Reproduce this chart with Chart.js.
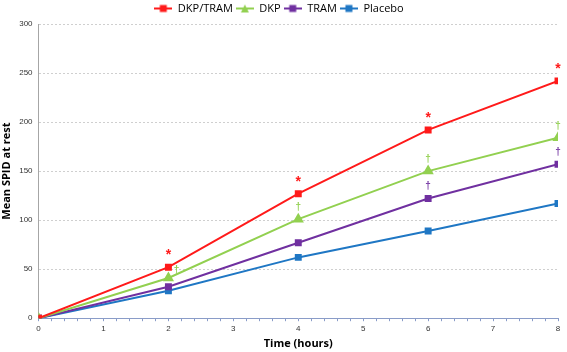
<!DOCTYPE html>
<html>
<head>
<meta charset="utf-8">
<script src="https://cdn.jsdelivr.net/npm/chart.js@4.4.1/dist/chart.umd.min.js"></script>
<style>
  html, body { margin: 0; padding: 0; background: #fff; }
  #wrap { width: 567px; height: 352px; }
</style>
</head>
<body>
<div id="wrap"><canvas id="grafico"></canvas></div>
<script>
// dados
const horas = [0, 2, 4, 6, 8];
const dkpTram = [0, 52, 127, 192, 242];
const dkp = [0, 41, 101, 150, 184];
const tram = [0, 32, 77, 122, 157];
const placebo = [0, 28, 62, 89, 117];

// marcas de significancia: serie, hora, simbolo
const marcaSerie = ['DKP/TRAM', 'DKP/TRAM', 'DKP/TRAM', 'DKP/TRAM', 'DKP', 'DKP', 'DKP', 'DKP', 'TRAM', 'TRAM'];
const marcaHora = [2, 4, 6, 8, 2, 4, 6, 8, 6, 8];
const marcaSimbolo = ['*', '*', '*', '*', '†', '†', '†', '†', '†', '†'];

const cores = {
    'DKP/TRAM': '#ff1a1a',
    'DKP': '#92d050',
    'TRAM': '#7030a0',
    'Placebo': '#1f77c4'
};

// icone da legenda: linha + marcador
function iconeLegenda(cor, forma) {
    const c = document.createElement('canvas');
    c.width = 18;
    c.height = 10;
    const ctx = c.getContext('2d');
    ctx.strokeStyle = cor;
    ctx.fillStyle = cor;
    ctx.lineWidth = 2;
    ctx.beginPath();
    ctx.moveTo(0, 5);
    ctx.lineTo(18, 5);
    ctx.stroke();
    ctx.beginPath();
    if (forma == 'triangle') {
        ctx.moveTo(9, 1);
        ctx.lineTo(13, 9);
        ctx.lineTo(5, 9);
        ctx.closePath();
    } else {
        ctx.rect(5.5, 1.5, 7, 7);
    }
    ctx.fill();
    return c;
}

function serie(nome, valores, forma) {
    return {
        label: nome,
        data: horas.map((h, i) => ({ x: h, y: valores[i] })),
        borderColor: cores[nome],
        backgroundColor: cores[nome],
        borderWidth: 2,
        pointStyle: forma,
        pointRadius: forma == 'triangle' ? 4.5 : 3.5,
        pointHoverRadius: 4,
        tension: 0,
        legendIcon: iconeLegenda(cores[nome], forma)
    };
}

const marcasPlugin = {
    id: 'marcas',
    afterDatasetsDraw(chart) {
        const ctx = chart.ctx;
        const xs = chart.scales.x;
        const ys = chart.scales.y;
        ctx.save();
        ctx.textAlign = 'center';
        ctx.textBaseline = 'middle';
        for (let i = 0; i < marcaSerie.length; i++) {
            const ds = chart.data.datasets.find(d => d.label == marcaSerie[i]);
            const p = ds.data.find(d => d.x == marcaHora[i]);
            let px = xs.getPixelForValue(p.x);
            let py = ys.getPixelForValue(p.y);
            if (marcaSimbolo[i] == '*') {
                ctx.font = 'bold 14px "Liberation Sans", sans-serif';
                py -= 12;
            } else {
                ctx.font = 'bold 10px "Liberation Sans", sans-serif';
                // o da DKP em 2h fica ao lado do ponto
                if (marcaSerie[i] == 'DKP' && marcaHora[i] == 2) {
                    px += 8;
                    py -= 8;
                } else {
                    py -= 12;
                }
            }
            ctx.fillStyle = cores[marcaSerie[i]];
            ctx.fillText(marcaSimbolo[i], px, py);
        }
        ctx.restore();
    }
};

new Chart(document.getElementById('grafico'), {
    type: 'line',
    data: {
        datasets: [
            serie('DKP/TRAM', dkpTram, 'rect'),
            serie('DKP', dkp, 'triangle'),
            serie('TRAM', tram, 'rect'),
            serie('Placebo', placebo, 'rect')
        ]
    },
    options: {
        responsive: true,
        maintainAspectRatio: false,
        animation: false,
        layout: { padding: { left: 0, right: 9, top: 0, bottom: 2 } },
        plugins: {
            legend: {
                position: 'top',
                labels: {
                    usePointStyle: true,
                    pointStyleWidth: 18,
                    boxHeight: 10,
                    padding: 3,
                    color: '#000',
                    font: { family: '"Open Sans", sans-serif', size: 11 },
                    generateLabels(chart) {
                        return chart.data.datasets.map((d, i) => ({
                            text: d.label,
                            pointStyle: d.legendIcon,
                            fillStyle: d.borderColor,
                            strokeStyle: d.borderColor,
                            lineWidth: 0,
                            hidden: false,
                            datasetIndex: i,
                            fontColor: '#000'
                        }));
                    }
                }
            },
            tooltip: { enabled: false }
        },
        scales: {
            x: {
                type: 'linear',
                min: 0,
                max: 8,
                border: { color: '#8a9cc8', width: 1 },
                grid: {
                    drawOnChartArea: false,
                    drawTicks: true,
                    tickLength: 3,
                    color: '#8a9cc8'
                },
                ticks: {
                    stepSize: 0.2,
                    autoSkip: false,
                    maxRotation: 0,
                    color: '#333',
                    padding: 3,
                    font: { family: '"Liberation Sans", sans-serif', size: 8 },
                    callback: (v) => Math.abs(v - Math.round(v)) < 1e-6 ? Math.round(v) : ''
                },
                title: {
                    display: true,
                    text: 'Time (hours)',
                    color: '#000',
                    padding: { top: 0, bottom: 0 },
                    font: { family: '"Open Sans", sans-serif', size: 11, weight: 'bold' }
                }
            },
            y: {
                min: 0,
                max: 300,
                border: { color: '#a6a6a6', width: 1, dash: [2, 2] },
                grid: {
                    color: '#cfcfcf',
                    drawTicks: false
                },
                ticks: {
                    stepSize: 50,
                    color: '#333',
                    padding: 6,
                    font: { family: '"Liberation Sans", sans-serif', size: 8 }
                },
                title: {
                    display: true,
                    text: 'Mean SPID at rest',
                    color: '#000',
                    padding: { top: 0, bottom: 0 },
                    font: { family: '"Open Sans", sans-serif', size: 11, weight: 'bold' }
                }
            }
        }
    },
    plugins: [marcasPlugin]
});
</script>
</body>
</html>
